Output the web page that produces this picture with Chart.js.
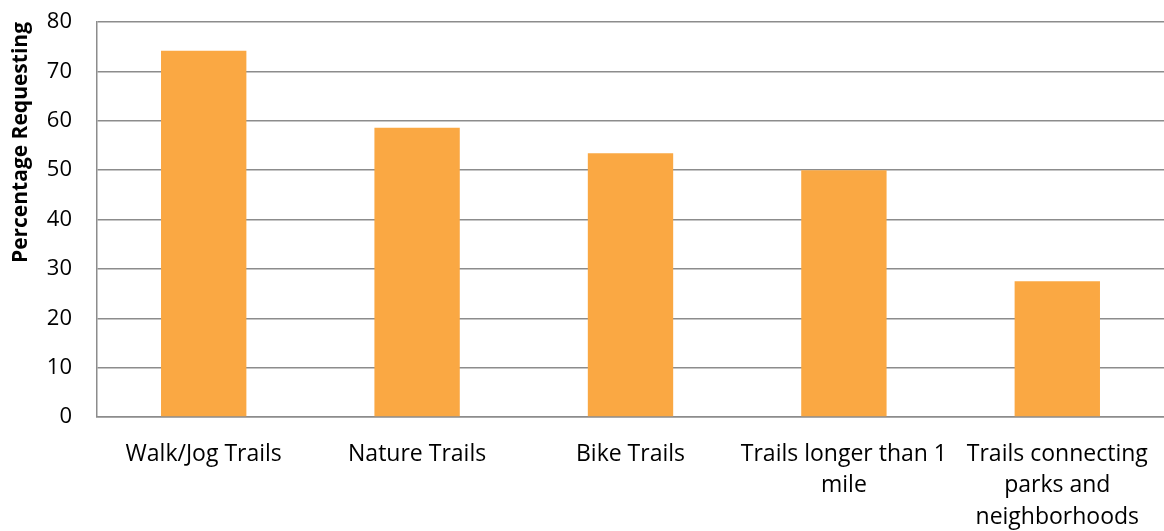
<!DOCTYPE html>
<html>
<head>
<meta charset="utf-8">
<script src="https://cdn.jsdelivr.net/npm/chart.js@4.4.0/dist/chart.umd.min.js"></script>
<style>
  html, body { margin: 0; padding: 0; background: #fff; }
  #wrap { width: 1164px; height: 531px; }
</style>
</head>
<body>
<div id="wrap"><canvas id="barTrails"></canvas></div>
<script>
var categories = [
    "Walk/Jog Trails",
    "Nature Trails",
    "Bike Trails",
    ["Trails longer than 1", "mile"],
    ["Trails connecting", "parks and", "neighborhoods"]
];
var percentRequesting = [74.2, 58.6, 53.4, 50.0, 27.5];
var yTicks = [0, 10, 20, 30, 40, 50, 60, 70, 80];

function initBarChart() {
    var ctx = document.getElementById("barTrails").getContext('2d');

    var data = {
        labels: categories,
        datasets: [{
            data: percentRequesting,
            backgroundColor: "#faa843",
            borderWidth: 0,
            barPercentage: 0.4,
            categoryPercentage: 1.0
        }]
    };

    var options = {
        responsive: true,
        maintainAspectRatio: false,
        animation: false,
        layout: {
            padding: { top: 0, right: 0, left: 0, bottom: 0 }
        },
        plugins: {
            legend: { display: false },
            tooltip: { enabled: false }
        },
        scales: {
            x: {
                grid: { display: false },
                border: { display: true, color: "#8c8c8c", width: 1.5 },
                ticks: {
                    color: "#000",
                    font: { family: "Open Sans", size: 23, lineHeight: 1.36 },
                    padding: 14,
                    maxRotation: 0,
                    autoSkip: false
                },
                afterFit: function (scale) { scale.height = 114; }
            },
            y: {
                min: 0,
                max: 80,
                afterBuildTicks: function (scale) {
                    scale.ticks = yTicks.map(function (v) { return { value: v }; });
                },
                grid: { color: "#8c8c8c", lineWidth: 1.5, drawTicks: false },
                border: { display: true, color: "#8c8c8c", width: 1.5 },
                ticks: {
                    color: "#000",
                    font: { family: "Open Sans", size: 22 },
                    padding: 25
                },
                title: {
                    display: true,
                    text: "Percentage Requesting",
                    align: "end",
                    color: "#000",
                    font: { family: "Open Sans", size: 21, weight: "bold" },
                    padding: { top: 8, bottom: 0 }
                },
                afterFit: function (scale) {
                    // keep plot area where the original sits
                    scale.width = 97;
                    scale.paddingTop = 22;
                    scale.paddingBottom = 0;
                }
            }
        }
    };

    new Chart(ctx, {
        type: 'bar',
        data: data,
        options: options
    });
}

initBarChart();
</script>
</body>
</html>
